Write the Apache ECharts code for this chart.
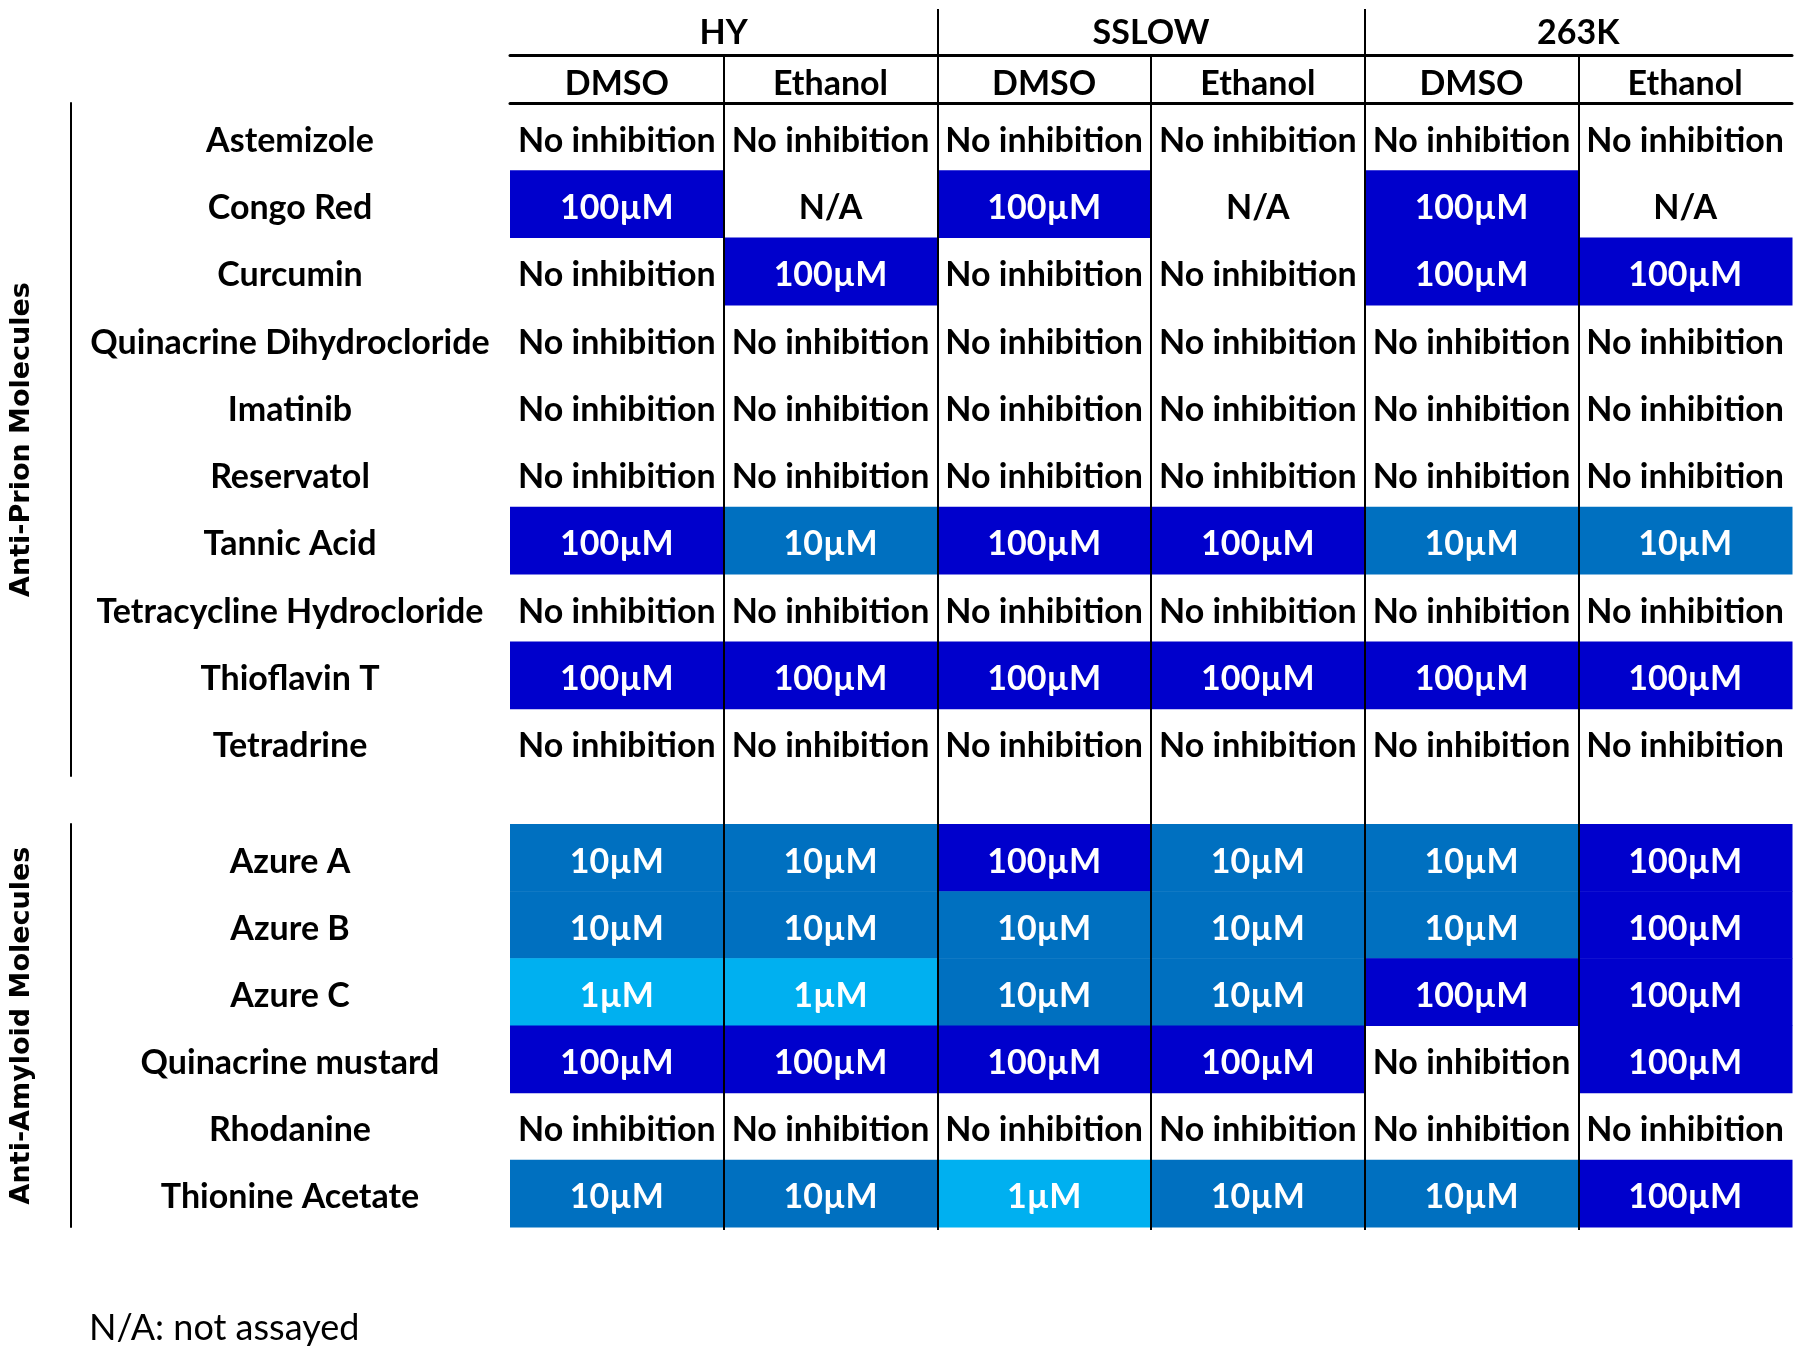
<!DOCTYPE html>
<html>
<head>
<meta charset="utf-8">
<script src="https://cdn.jsdelivr.net/npm/echarts@6/dist/echarts.min.js"></script>
<style>html,body{margin:0;padding:0;background:#fff}#c{width:1800px;height:1354px}</style>
</head>
<body>
<div id="c"></div>
<script>
var groups = ['HY', 'SSLOW', '263K'];
var solvents = ['DMSO', 'Ethanol', 'DMSO', 'Ethanol', 'DMSO', 'Ethanol'];
var prionMolecules = ['Astemizole', 'Congo Red', 'Curcumin', 'Quinacrine Dihydrocloride', 'Imatinib', 'Reservatol', 'Tannic Acid', 'Tetracycline Hydrocloride', 'Thioflavin T', 'Tetradrine'];
var amyloidMolecules = ['Azure A', 'Azure B', 'Azure C', 'Quinacrine mustard', 'Rhodanine', 'Thionine Acetate'];
var NI = 'No inhibition';
var prionValues = [
  [NI, NI, NI, NI, NI, NI],
  ['100µM', 'N/A', '100µM', 'N/A', '100µM', 'N/A'],
  [NI, '100µM', NI, NI, '100µM', '100µM'],
  [NI, NI, NI, NI, NI, NI],
  [NI, NI, NI, NI, NI, NI],
  [NI, NI, NI, NI, NI, NI],
  ['100µM', '10µM', '100µM', '100µM', '10µM', '10µM'],
  [NI, NI, NI, NI, NI, NI],
  ['100µM', '100µM', '100µM', '100µM', '100µM', '100µM'],
  [NI, NI, NI, NI, NI, NI]
];
var amyloidValues = [
  ['10µM', '10µM', '100µM', '10µM', '10µM', '100µM'],
  ['10µM', '10µM', '10µM', '10µM', '10µM', '100µM'],
  ['1µM', '1µM', '10µM', '10µM', '100µM', '100µM'],
  ['100µM', '100µM', '100µM', '100µM', NI, '100µM'],
  [NI, NI, NI, NI, NI, NI],
  ['10µM', '10µM', '1µM', '10µM', '10µM', '100µM']
];
var footnote = 'N/A: not assayed';

var fillColors = {'1µM': '#00B0F0', '10µM': '#0070C0', '100µM': '#0000CC'};
var FONT = 'Lato, Roboto, sans-serif';
var FS = 34;

function toData(values) {
  var out = [];
  values.forEach(function (row, r) {
    row.forEach(function (v, c) { out.push([c, r]); });
  });
  return out;
}

function makeRender(values) {
  return function (params, api) {
    var c = api.value(0), r = api.value(1);
    var txt = values[r][c];
    var p = api.coord([c, r]);
    var s = api.size([1, 1]);
    var fill = fillColors[txt];
    var children = [];
    if (fill) {
      children.push({type: 'rect', shape: {x: p[0] - s[0] / 2, y: p[1] - s[1] / 2, width: s[0] + 0.5, height: s[1] + 0.5}, style: {fill: fill}});
    }
    children.push({type: 'text', style: {text: txt, x: p[0], y: p[1] + 4, align: 'center', verticalAlign: 'middle',
      fill: fill ? '#fff' : '#000', fontFamily: FONT, fontWeight: 'bold', fontSize: FS}});
    return {type: 'group', children: children};
  };
}

var chart = echarts.init(document.getElementById('c'), null, {renderer: 'canvas'});
var boldLabel = {color: '#000', fontFamily: FONT, fontWeight: 'bold', fontSize: FS};
var hidden = {show: false};
var rowLabel = Object.assign({margin: 220, align: 'center', interval: 0, verticalAlign: 'top', lineHeight: 8}, boldLabel);

chart.setOption({
  animation: false,
  backgroundColor: '#fff',
  title: {text: footnote, left: 84, top: 1305, textStyle: {color: '#000', fontFamily: FONT, fontWeight: 'normal', fontSize: 36}},
  grid: [
    {left: 510, right: 8, top: 103, height: 673, outerBoundsMode: 'none'},
    {left: 510, right: 8, top: 824, height: 403, outerBoundsMode: 'none'},
    {left: 510, right: 8, top: 9, bottom: 124, outerBoundsMode: 'none'},
    {left: 510, right: 8, top: 55, bottom: 124, outerBoundsMode: 'none'}
  ],
  xAxis: [
    {gridIndex: 0, type: 'category', position: 'top', data: solvents, z: 6,
      axisLine: {show: true, onZero: false, lineStyle: {color: '#000', width: 3}}, axisTick: hidden,
      axisLabel: Object.assign({margin: 19, verticalAlign: 'middle', interval: 0}, boldLabel), splitLine: hidden},
    {gridIndex: 0, type: 'category', position: 'top', offset: 48, data: groups, z: 6,
      axisLine: {show: true, onZero: false, lineStyle: {color: '#000', width: 3}}, axisTick: hidden,
      axisLabel: Object.assign({margin: 22, verticalAlign: 'middle', interval: 0}, boldLabel), splitLine: hidden},
    {gridIndex: 1, type: 'category', data: solvents, show: false},
    {gridIndex: 2, type: 'category', data: groups, z: 6, axisLine: hidden, axisTick: hidden, axisLabel: hidden,
      splitLine: {show: true, interval: 0, showMinLine: false, showMaxLine: false, lineStyle: {color: '#000', width: 2}}},
    {gridIndex: 3, type: 'category', data: solvents, z: 6, axisLine: hidden, axisTick: hidden, axisLabel: hidden,
      splitLine: {show: true, interval: 0, showMinLine: false, showMaxLine: false, lineStyle: {color: '#000', width: 2}}}
  ],
  yAxis: [
    {gridIndex: 0, type: 'category', inverse: true, data: prionMolecules, axisLine: hidden, axisTick: hidden, splitLine: hidden,
      axisLabel: rowLabel},
    {gridIndex: 1, type: 'category', inverse: true, data: amyloidMolecules, axisLine: hidden, axisTick: hidden, splitLine: hidden,
      axisLabel: rowLabel},
    {gridIndex: 0, type: 'value', position: 'left', offset: 439, axisLine: {show: true, onZero: false, lineStyle: {color: '#000', width: 2}},
      axisTick: hidden, axisLabel: hidden, splitLine: hidden,
      name: 'Anti-Prion Molecules', nameLocation: 'middle', nameRotate: 90, nameGap: 36,
      nameTextStyle: {color: '#000', fontFamily: 'DejaVu Sans', fontWeight: 'bold', fontSize: 27}},
    {gridIndex: 1, type: 'value', position: 'left', offset: 439, axisLine: {show: true, onZero: false, lineStyle: {color: '#000', width: 2}},
      axisTick: hidden, axisLabel: hidden, splitLine: hidden,
      name: 'Anti-Amyloid Molecules', nameLocation: 'middle', nameRotate: 90, nameGap: 36,
      nameTextStyle: {color: '#000', fontFamily: 'DejaVu Sans', fontWeight: 'bold', fontSize: 27}},
    {gridIndex: 2, type: 'value', show: false},
    {gridIndex: 3, type: 'value', show: false}
  ],
  series: [
    {type: 'custom', xAxisIndex: 0, yAxisIndex: 0, data: toData(prionValues), renderItem: makeRender(prionValues), z: 2},
    {type: 'custom', xAxisIndex: 2, yAxisIndex: 1, data: toData(amyloidValues), renderItem: makeRender(amyloidValues), z: 2}
  ]
});
</script>
</body>
</html>
